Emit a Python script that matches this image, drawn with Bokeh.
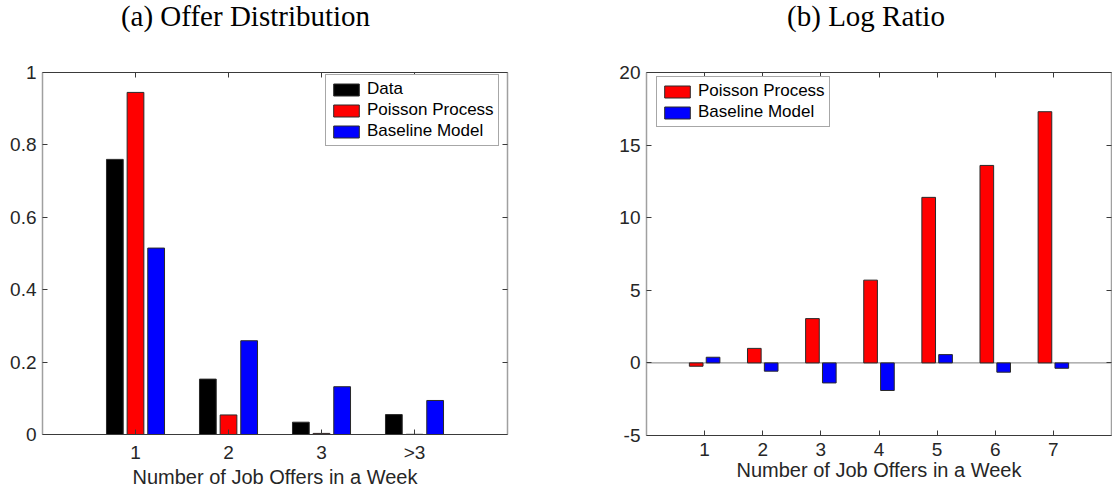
from bokeh.plotting import figure
from bokeh.models import FixedTicker, LinearAxis, Span, ColumnDataSource, Div
from bokeh.layouts import row, column
from bokeh.transform import dodge
from bokeh.embed import file_html
from bokeh.resources import INLINE

# ---------------- Panel (a): offer distribution ----------------
offer_ticks = [1, 2, 3, 4]
offer_labels = ["1", "2", "3", ">3"]
data_share = [0.760, 0.153, 0.034, 0.055]
poisson_share = [0.945, 0.054, 0.003, 0.0005]
baseline_share = [0.515, 0.259, 0.132, 0.094]
share_ticks = [0, 0.2, 0.4, 0.6, 0.8, 1]
share_labels = ["0", "0.2", "0.4", "0.6", "0.8", "1"]

# ---------------- Panel (b): log ratio ----------------
ratio_ticks = [1, 2, 3, 4, 5, 6, 7]
poisson_ratio = [-0.23, 1.0, 3.05, 5.7, 11.4, 13.6, 17.3]
baseline_ratio = [0.39, -0.57, -1.38, -1.9, 0.57, -0.64, -0.37]
lr_ticks = [-5, 0, 5, 10, 15, 20]
lr_labels = ["-5", "0", "5", "10", "15", "20"]

titles = ["(a) Offer Distribution", "(b) Log Ratio"]
x_title = "Number of Job Offers in a Week"

SANS = "Liberation Sans"
SERIF = "Liberation Serif"
TXT = "#262626"
HCOL = "#3a3a3a"
VCOL = "#a0a0a0"
EDGE = "#2a2a2a"
TITLE_H = 40


def make_title(text, width, inner_width, pad_left):
    html = ('<div style="display:block; box-sizing:content-box; width:%dpx; '
            'padding:2px 0 0 %dpx; margin:0; font-family:\'%s\'; font-size:29px; '
            'line-height:29px; color:black; text-align:center; white-space:nowrap;">'
            '%s</div>' % (inner_width, pad_left, SERIF, text))
    return Div(text=html, width=width, height=TITLE_H, margin=(0, 0, 0, 0))


def style(p, xticks, xover, yticks, yover):
    p.xgrid.visible = False
    p.ygrid.visible = False
    p.outline_line_color = None
    p.background_fill_color = "white"
    p.border_fill_color = "white"

    xa = p.xaxis[0]
    xa.ticker = FixedTicker(ticks=xticks)
    xa.major_label_overrides = xover
    ya = p.yaxis[0]
    ya.ticker = FixedTicker(ticks=yticks)
    ya.major_label_overrides = yover
    for ax, col in ((xa, HCOL), (ya, VCOL)):
        ax.axis_line_color = col
        ax.axis_line_width = 1.5 if col == VCOL else 1
        ax.major_tick_line_color = HCOL
        ax.major_tick_in = 5
        ax.major_tick_out = 0
        ax.minor_tick_line_color = None
        ax.major_label_text_font = SANS
        ax.major_label_text_font_size = "19px"
        ax.major_label_text_color = TXT
        ax.major_label_standoff = 7
    ya.major_label_standoff = 6
    xa.axis_label = x_title
    xa.axis_label_text_font = SANS
    xa.axis_label_text_font_size = "20px"
    xa.axis_label_text_font_style = "normal"
    xa.axis_label_text_color = TXT
    xa.axis_label_standoff = 0

    top = LinearAxis(ticker=FixedTicker(ticks=xticks))
    right = LinearAxis(ticker=FixedTicker(ticks=yticks))
    for ax, col in ((top, HCOL), (right, VCOL)):
        ax.axis_line_color = col
        ax.axis_line_width = 1.5 if col == VCOL else 1
        ax.major_tick_line_color = HCOL
        ax.major_tick_in = 5
        ax.major_tick_out = 0
        ax.minor_tick_line_color = None
        ax.major_label_text_font_size = "1px"
        ax.major_label_text_color = None
        ax.major_label_standoff = 0
    p.add_layout(top, "above")
    p.add_layout(right, "right")


def style_legend(leg, loc):
    leg.location = loc
    leg.label_text_font = SANS
    leg.label_text_font_size = "17px"
    leg.label_text_color = "black"
    leg.glyph_width = 32
    leg.glyph_height = 15
    leg.label_standoff = 5
    leg.label_height = 16
    leg.spacing = 1
    leg.padding = 4
    leg.margin = 0
    leg.border_line_color = "#505050"
    leg.border_line_width = 1
    leg.background_fill_color = "white"
    leg.background_fill_alpha = 1


# ---------- figure (a) ----------
src_a = ColumnDataSource(dict(x=offer_ticks, data=data_share,
                              poisson=poisson_share, base=baseline_share))
p1 = figure(width=600, height=490 - TITLE_H, x_range=(0, 5), y_range=(0, 1),
            output_backend="svg", toolbar_location=None,
            min_border_left=42, min_border_right=93,
            min_border_top=72 - TITLE_H, min_border_bottom=55,
            margin=(0, 0, 0, 0))
p1.vbar(x=dodge("x", -0.222), top="data", width=0.18, bottom=0, source=src_a,
        fill_color="black", line_color=EDGE, line_width=1, legend_label="Data")
p1.vbar(x=dodge("x", 0.0), top="poisson", width=0.18, bottom=0, source=src_a,
        fill_color="#ff0000", line_color=EDGE, line_width=1, legend_label="Poisson Process")
p1.vbar(x=dodge("x", 0.222), top="base", width=0.18, bottom=0, source=src_a,
        fill_color="#0000ff", line_color=EDGE, line_width=1, legend_label="Baseline Model")
style(p1, offer_ticks, dict(zip(offer_ticks, offer_labels)),
      share_ticks, dict(zip(share_ticks, share_labels)))
style_legend(p1.legend[0], (283, 288))

# ---------- figure (b) ----------
src_b = ColumnDataSource(dict(x=ratio_ticks, poisson=poisson_ratio, base=baseline_ratio))
p2 = figure(width=512, height=490 - TITLE_H, x_range=(0, 8), y_range=(-5, 20),
            output_backend="svg", toolbar_location=None,
            min_border_left=46, min_border_right=1,
            min_border_top=72 - TITLE_H, min_border_bottom=55,
            margin=(0, 0, 0, 0))
p2.add_layout(Span(location=0, dimension="width", line_color="#808080",
                   line_width=1, level="underlay"))
p2.vbar(x=dodge("x", -0.145), top="poisson", width=0.235, bottom=0, source=src_b,
        fill_color="#ff0000", line_color=EDGE, line_width=1, legend_label="Poisson Process")
p2.vbar(x=dodge("x", 0.145), top="base", width=0.235, bottom=0, source=src_b,
        fill_color="#0000ff", line_color=EDGE, line_width=1, legend_label="Baseline Model")
style(p2, ratio_ticks, {}, lr_ticks, dict(zip(lr_ticks, lr_labels)))
style_legend(p2.legend[0], (10, 308))

t1 = make_title(titles[0], 600, 491, 0)
t2 = make_title(titles[1], 512, 492, 20)

layout = row(column(t1, p1, spacing=0, margin=(0, 0, 0, 0)),
             column(t2, p2, spacing=0, margin=(0, 0, 0, 0)),
             spacing=0, margin=(0, 0, 0, 0))
open("out.html", "w").write(file_html(layout, INLINE))
